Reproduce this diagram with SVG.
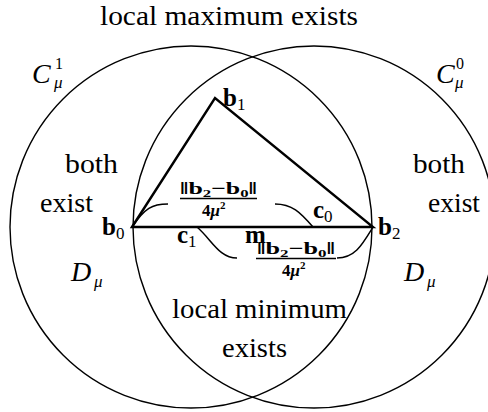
<svg xmlns="http://www.w3.org/2000/svg" width="488" height="412" viewBox="0 0 488 412">
<style>
.circ{fill:none;stroke:#000;stroke-width:1.4}
.thick{fill:none;stroke:#000;stroke-width:2.4;stroke-linejoin:miter}
.brace{fill:none;stroke:#000;stroke-width:1.5}
.bar{stroke:#000;stroke-width:1.4}
text{font-family:"Liberation Serif","DejaVu Serif",serif;fill:#000}
.rm{font-size:28px}
.it{font-size:28px;font-style:italic}
.sc{font-size:16px}
.sci{font-size:17px;font-style:italic}
.bf{font-size:25px;font-weight:bold}
.bsub{font-size:17px;font-weight:normal}
.fr{font-size:17px;font-weight:bold}
.frs{font-size:11px}
</style>
<rect width="488" height="412" fill="#fff"/>
<g id="circle-C1">
<circle class="circ" cx="191" cy="227" r="181"/>
</g>
<g id="circle-C0">
<circle class="circ" cx="314" cy="227" r="181"/>
</g>
<g id="connectors">
<path class="thick" d="M132,227 L215,98 L373,227 Z"/>
<path class="brace" d="M132,227 C145,208 152,204 168,204"/>
<path class="brace" d="M275,204 C292,204 300,212 313,227"/>
<path class="brace" d="M197,227 C212,240 219,258 237,258"/>
<path class="brace" d="M337,258 C355,258 362,245 373,227"/>
<line class="bar" x1="180" y1="198.5" x2="257" y2="198.5"/>
<line class="bar" x1="256" y1="258.5" x2="336" y2="258.5"/>
</g>
<g id="labels">
<text class="rm" x="100" y="25" textLength="258" lengthAdjust="spacingAndGlyphs">local maximum exists</text>
<g id="C1">
<text class="it" x="32" y="83">C</text>
<text class="sc" x="55" y="69">1</text>
<text class="sci" x="54" y="88">μ</text>
</g>
<g id="C0">
<text class="it" x="436" y="83">C</text>
<text class="sc" x="456" y="69">0</text>
<text class="sci" x="455" y="88">μ</text>
</g>
<text class="rm" x="65" y="173" textLength="53" lengthAdjust="spacingAndGlyphs">both</text>
<text class="rm" x="40" y="212" textLength="53" lengthAdjust="spacingAndGlyphs">exist</text>
<text class="rm" x="413" y="173" textLength="52" lengthAdjust="spacingAndGlyphs">both</text>
<text class="rm" x="428" y="212" textLength="52" lengthAdjust="spacingAndGlyphs">exist</text>
<g id="D-left">
<text class="it" x="71" y="281">D</text>
<text class="sci" x="94" y="287">μ</text>
</g>
<g id="D-right">
<text class="it" x="404" y="281">D</text>
<text class="sci" x="427" y="287">μ</text>
</g>
<text class="rm" x="172" y="318" textLength="175" lengthAdjust="spacingAndGlyphs">local minimum</text>
<text class="rm" x="222" y="357" textLength="65" lengthAdjust="spacingAndGlyphs">exists</text>
<g id="b0"><text class="bf" x="102" y="235">b<tspan class="bsub" dy="4">0</tspan></text></g>
<g id="b1"><text class="bf" x="223" y="106">b<tspan class="bsub" dy="4">1</tspan></text></g>
<g id="b2"><text class="bf" x="378" y="235">b<tspan class="bsub" dy="4">2</tspan></text></g>
<g id="c0"><text class="bf" x="313" y="218">c<tspan class="bsub" dy="4">0</tspan></text></g>
<g id="c1"><text class="bf" x="177" y="243">c<tspan class="bsub" dy="4">1</tspan></text></g>
<g id="m"><text class="bf" x="245" y="243">m</text></g>
<g id="frac-upper">
<text class="fr" x="180" y="194" textLength="77" lengthAdjust="spacingAndGlyphs">‖b<tspan class="frs" dy="3">2</tspan><tspan dy="-3">−b</tspan><tspan class="frs" dy="3">0</tspan><tspan dy="-3">‖</tspan></text>
<text class="fr" x="202" y="216">4<tspan font-style="italic">μ</tspan><tspan class="frs" dy="-7">2</tspan></text>
</g>
<g id="frac-lower">
<text class="fr" x="257" y="254" textLength="78" lengthAdjust="spacingAndGlyphs">‖b<tspan class="frs" dy="3">2</tspan><tspan dy="-3">−b</tspan><tspan class="frs" dy="3">0</tspan><tspan dy="-3">‖</tspan></text>
<text class="fr" x="282" y="276">4<tspan font-style="italic">μ</tspan><tspan class="frs" dy="-7">2</tspan></text>
</g>
</g>
</svg>
